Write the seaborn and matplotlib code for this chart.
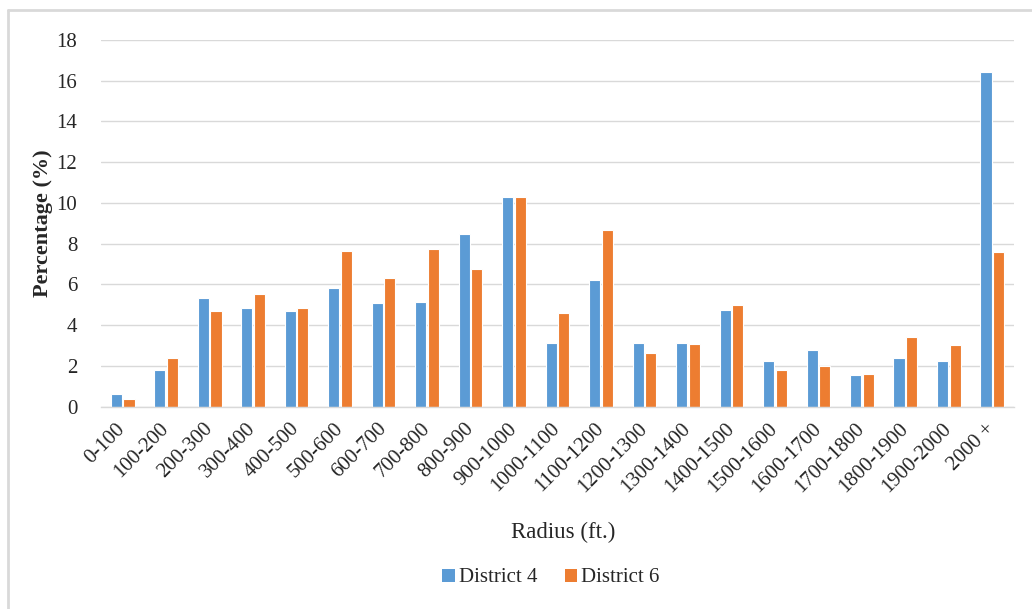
"""
Curve radius distribution, District 4 vs District 6.

Produces:
  out.png
"""

import matplotlib.pyplot as plt
import pandas as pd
import seaborn as sns
from matplotlib.lines import Line2D
from matplotlib.patches import Patch

sns.set_theme(style="white")
plt.rcParams["font.family"] = ["Liberation Serif", "DejaVu Serif"]

RADIUS_BINS = [
    "0-100", "100-200", "200-300", "300-400", "400-500", "500-600",
    "600-700", "700-800", "800-900", "900-1000", "1000-1100", "1100-1200",
    "1200-1300", "1300-1400", "1400-1500", "1500-1600", "1600-1700",
    "1700-1800", "1800-1900", "1900-2000", "2000 +",
]
DISTRICT_4 = [0.6, 1.8, 5.35, 4.83, 4.7, 5.85, 5.1, 5.15, 8.47, 10.3, 3.15,
              6.23, 3.15, 3.15, 4.73, 2.24, 2.77, 1.54, 2.39, 2.24, 16.42]
DISTRICT_6 = [0.4, 2.37, 4.7, 5.55, 4.83, 7.63, 6.32, 7.75, 6.77, 10.3, 4.6,
              8.66, 2.63, 3.1, 4.98, 1.79, 2.0, 1.6, 3.42, 3.03, 7.6]
DISTRICTS = ["District 4", "District 6"]
COLORS = ["#5B9BD5", "#ED7D31"]
GRID_GREY = "#D9D9D9"
TEXT = "#262626"


def build_frame() -> pd.DataFrame:
    rows = []
    for name, values in zip(DISTRICTS, [DISTRICT_4, DISTRICT_6]):
        for label, v in zip(RADIUS_BINS, values):
            rows.append({"Radius": label, "Percentage": v, "District": name})
    return pd.DataFrame(rows)


def main() -> None:
    df = build_frame()

    fig = plt.figure(figsize=(10.32, 6.09), dpi=100)
    ax = fig.add_axes([101 / 1032, 1 - 406.7 / 609, 913 / 1032, 366.7 / 609])

    sns.barplot(
        data=df, x="Radius", y="Percentage", hue="District",
        order=RADIUS_BINS, hue_order=DISTRICTS, palette=COLORS,
        saturation=1, width=0.58, gap=0.12, edgecolor="white",
        linewidth=0.8, legend=False, ax=ax,
    )

    ax.set_ylim(0, 18)
    ax.set_yticks(range(0, 19, 2))
    ax.yaxis.grid(True, color=GRID_GREY, linewidth=1)
    ax.set_axisbelow(True)
    for side in ["top", "left", "right"]:
        ax.spines[side].set_visible(False)
    ax.spines["bottom"].set_color(GRID_GREY)
    ax.spines["bottom"].set_linewidth(1)
    ax.tick_params(axis="both", length=0, colors=TEXT)
    ax.tick_params(axis="y", labelsize=15, pad=17)
    ax.tick_params(axis="x", labelsize=15, pad=14)
    plt.setp(ax.get_xticklabels(), rotation=45, ha="right",
             rotation_mode="anchor", va="center")

    ax.set_ylabel("")
    ax.set_xlabel("")
    fig.text(43 / 1032, 1 - 223 / 609, "Percentage (%)", fontsize=16,
             fontweight="bold", rotation=90, ha="center", va="center",
             color=TEXT)
    fig.text(563 / 1032, 1 - 532 / 609, "Radius (ft.)", fontsize=16.5,
             ha="center", va="center", color=TEXT)

    handles = [Patch(facecolor=c, edgecolor="none") for c in COLORS]
    fig.legend(handles, DISTRICTS, loc="center",
               bbox_to_anchor=(551 / 1032, 1 - 578 / 609), ncol=2,
               frameon=False, fontsize=15, handlelength=0.6,
               handleheight=0.6, handletextpad=0.2, columnspacing=1.3,
               labelcolor=TEXT)

    # chart border like the spreadsheet frame
    fig.add_artist(Line2D([8 / 1032, 8 / 1032], [0, 1 - 10 / 609],
                          transform=fig.transFigure, color=GRID_GREY, lw=2))
    fig.add_artist(Line2D([8 / 1032, 1], [1 - 10 / 609, 1 - 10 / 609],
                          transform=fig.transFigure, color=GRID_GREY, lw=2))

    fig.savefig("out.png", dpi=100)
    plt.close(fig)


if __name__ == "__main__":
    main()
